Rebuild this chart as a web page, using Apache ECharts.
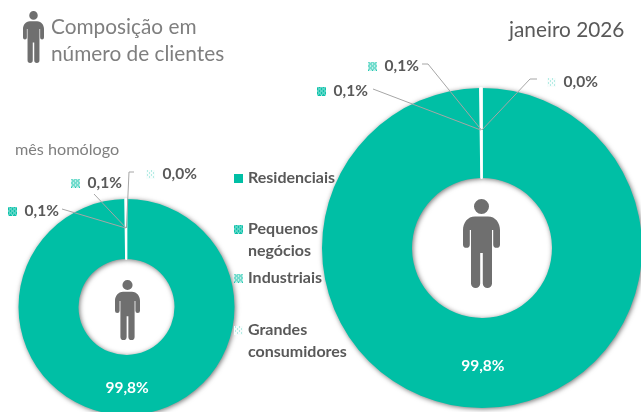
<!DOCTYPE html>
<html><head><meta charset="utf-8">
<style>html,body{margin:0;padding:0;background:#fff}#c{width:641px;height:412px}</style>
<script src="https://cdn.jsdelivr.net/npm/echarts@6/dist/echarts.min.js"></script></head>
<body><div id="c"></div>
<script>
const categories = ['Residenciais','Pequenos negócios','Industriais','Grandes consumidores'];
const valuesCurrent = [99.8,0.1,0.1,0.02];
const valuesPrevious = [99.8,0.1,0.1,0.02];
const titleText = 'Composição em\nnúmero de clientes';
const currentLabel = 'janeiro 2026';
const previousLabel = 'mês homólogo';

const TEAL='#00BFA5', GREY='#595959', FONT='Lato, Carlito, sans-serif';
function swatch(kind){
  const s=9,c=document.createElement('canvas');c.width=c.height=s;
  const g=c.getContext('2d');g.fillStyle='#fff';g.fillRect(0,0,s,s);
  g.fillStyle=TEAL;
  for(let y=0;y<s;y++)for(let x=0;x<s;x++){
    let a=0;
    if(kind===0)a=1;
    else if(kind===1)a=((x+y)%4===0||(x-y+8)%4===0)?0.35:0.95;
    else if(kind===2)a=((x+y)%4===0||(x-y+8)%4===0)?0.85:0.25;
    else a=(x%4===1&&y%4===1)||(x%4===3&&y%4===3)?0.55:0.03;
    g.globalAlpha=a;g.fillRect(x,y,1,1);
  }
  return c;
}
const swatches=[0,1,2,3].map(swatch);
const rich={txt:{fontFamily:FONT,fontWeight:'bold',fontSize:15.5,color:GREY}};
swatches.forEach((c,i)=>{rich['s'+i]={width:9,height:9,backgroundColor:{image:c}};});

const personPath='M11 7.5A7.5 7.5 0 1 1 26 7.5A7.5 7.5 0 1 1 11 7.5ZM12 17.5H25C32.5 17.5 37 24 37 31V45.5a3.4 3.4 0 0 1-6.8 0V31H29V84.5a4.6 4.6 0 0 1-9.2 0V54H17.2V84.5a4.6 4.6 0 0 1-9.2 0V31H6.8V45.5a3.4 3.4 0 0 1-6.8 0V31C0 24 4.5 17.5 12 17.5Z';

function pie(center,radius,values,labelPos,fs){
  return {
    type:'pie',center,radius,startAngle:90,clockwise:true,avoidLabelOverlap:false,silent:true,
    labelLine:{show:false},
    data:categories.map((name,i)=>({
      name,value:values[i],
      itemStyle:i===0
        ?{color:TEAL,shadowBlur:5,shadowColor:'rgba(0,0,0,0.55)',shadowOffsetX:1,shadowOffsetY:1}
        :{color:'#fff',borderColor:'#fff',borderWidth:1.5},
      label:i===0
        ?{show:true,position:'inside',formatter:v=>v.value.toFixed(1).replace('.',',')+'%',color:'#fff',fontFamily:FONT,fontWeight:'bold',fontSize:fs}
        :{show:true,position:'outside',formatter:v=>'{s'+v.dataIndex+'|}{txt|  '+v.value.toFixed(1).replace('.',',')+'%}',rich}
    })),
    labelLayout:p=>{
      const q=labelPos[p.dataIndex];
      return q?{x:q[0],y:q[1],align:'left',verticalAlign:'middle'}:{};
    }
  };
}
function leaderEnd(center,r,values,i){
  const tot=values.reduce((a,b)=>a+b,0);
  let acc=0;for(let k=0;k<i;k++)acc+=values[k];
  const ang=(acc+values[i]/2)/tot*2*Math.PI;
  return [center[0]+r*Math.sin(ang),center[1]-r*Math.cos(ang)];
}
function leader(points,center,r,values,i){
  return {type:'polyline',z:100,silent:true,
    shape:{points:points.concat([leaderEnd(center,r,values,i)])},
    style:{stroke:'#A6A6A6',lineWidth:1,fill:null}};
}
function text(t,x,y,size,color,weight){
  return {type:'text',z:100,silent:true,x,y,style:{text:t,font:(weight||'normal')+' '+size+'px '+FONT,fill:color,lineHeight:27,textVerticalAlign:'top'}};
}
const cBig=[482,248], cSmall=[126.5,307];
const legendTops=[167.5,218.5,267.5,319.5];
const legends=categories.map((name,i)=>({
  left:234,top:legendTops[i],orient:'vertical',padding:0,itemWidth:9,itemHeight:9,selectedMode:false,
  data:[{name,icon:'image://'+swatches[i].toDataURL()}],
  formatter:n=>n.split(' ')[0],
  textStyle:{fontFamily:FONT,fontWeight:'bold',fontSize:16,color:GREY,lineHeight:21}
}));
const personBoxes=[[463,199,37,89],[115,280,25,60],[23,11,21,52]];

const chart=echarts.init(document.getElementById('c'),null,{renderer:'canvas',width:641,height:412});
chart.setOption({
  animation:false,
  legend:legends,
  series:[
    pie(cBig,[70,160],valuesCurrent,[null,[317,91],[368,66],[547,82]],15.5),
    pie(cSmall,[48,108],valuesPrevious,[null,[8,211],[71,183],[146,174]],15.5),
    {type:'custom',silent:true,z:10,data:personBoxes,coordinateSystem:'none',
     renderItem:(p,api)=>({type:'path',shape:{pathData:personPath,x:api.value(0),y:api.value(1),width:api.value(2),height:api.value(3),layout:'cover'},style:{fill:'#6F6F6F'}})}
  ],
  graphic:{elements:[
    leader([[373,89]],cBig,118,valuesCurrent,1),
    leader([[422,64],[428,64]],cBig,118,valuesCurrent,2),
    leader([[537,79],[530,79]],cBig,118,valuesCurrent,3),
    leader([[62,209]],cSmall,79,valuesPrevious,1),
    leader([[94,194]],cSmall,79,valuesPrevious,2),
    leader([[134,172],[129,172]],cSmall,79,valuesPrevious,3),
    text(titleText,51,14,20.8,'#7F7F7F'),
    text(currentLabel,509,17,20.8,GREY),
    text(previousLabel,15,136,16.2,'#7F7F7F'),
    text(categories[1].split(' ')[1],248,237,16,GREY,'bold'),
    text(categories[3].split(' ')[1],248,338,16,GREY,'bold')
  ]}
});
</script></body></html>
